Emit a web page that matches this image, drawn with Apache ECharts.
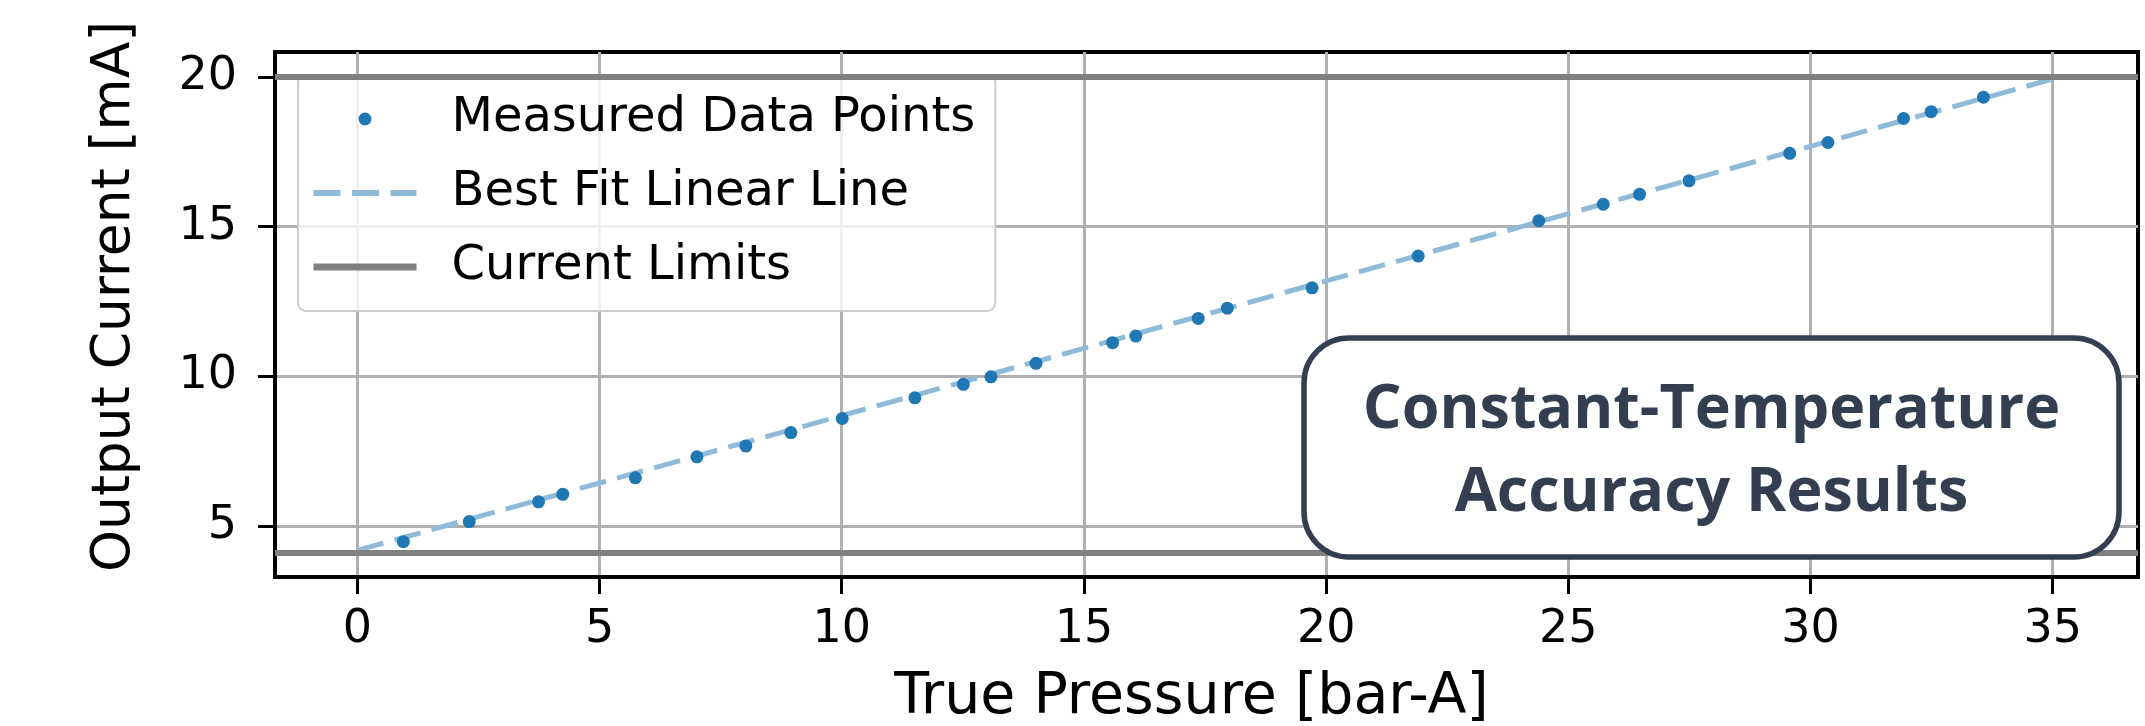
<!DOCTYPE html>
<html>
<head>
<meta charset="utf-8">
<title>Constant-Temperature Accuracy Results</title>
<script src="https://cdn.jsdelivr.net/npm/echarts@6/dist/echarts.min.js"></script>
<style>
  html, body { margin: 0; padding: 0; background: #ffffff; }
  #chart { width: 2145px; height: 726px; }
</style>
</head>
<body>
<div id="chart"></div>
<script>
// Pressure sweep: true pressure [bar-A] vs. transmitter output current [mA]
const pressure = [0.95, 2.31, 3.74, 4.24, 5.74, 7.01, 8.02, 8.95, 10.01, 11.51, 12.51, 13.08,
                  14.01, 15.59, 16.07, 17.36, 17.96, 19.71, 21.90, 24.39, 25.72, 26.47, 27.49,
                  29.57, 30.36, 31.92, 32.49, 33.57];
const current  = [4.49, 5.16, 5.82, 6.07, 6.62, 7.32, 7.68, 8.13, 8.60, 9.29, 9.74, 9.99,
                  10.44, 11.13, 11.35, 11.94, 12.28, 12.96, 14.02, 15.20, 15.75, 16.08, 16.53,
                  17.45, 17.81, 18.61, 18.84, 19.32];

// Best fit linear line (end points)
const fitPressure = [0, 35];
const fitCurrent  = [4.2, 19.93];

// 4-20 mA output limits
const currentLimits = [4.13, 20];

// Axis ticks and ranges
const xTicks = [0, 5, 10, 15, 20, 25, 30, 35];
const yTicks = [5, 10, 15, 20];
const xRange = [-1.7, 36.76];
const yRange = [3.31, 20.83];

const seriesNames = ['Measured Data Points', 'Best Fit Linear Line', 'Current Limits'];
const boxLines = ['Constant-Temperature', 'Accuracy Results'];

const BLUE = '#1f77b4';
const FIT_BLUE = '#8fbbd9';
const LIMIT_GRAY = '#808080';
const GRID_GRAY = '#b0b0b0';
const SLATE = '#333f50';
const FONT = 'DejaVu Sans';

const chart = echarts.init(document.getElementById('chart'), null, { renderer: 'canvas' });

const measured = pressure.map((p, i) => [p, current[i]]);
const fitLine = fitPressure.map((p, i) => [p, fitCurrent[i]]);

const option = {
  backgroundColor: '#ffffff',
  animation: false,
  grid: {
    left: 275, right: 7, top: 52, bottom: 149,
    show: true,
    borderColor: '#000000',
    borderWidth: 4,
    backgroundColor: '#ffffff',
    outerBoundsMode: 'none'
  },
  xAxis: {
    type: 'value',
    min: xRange[0], max: xRange[1],
    name: 'True Pressure [bar-A]',
    nameLocation: 'middle',
    nameGap: 93,
    nameTextStyle: { fontFamily: FONT, fontSize: 57, color: '#000000', padding: [0, 30, 0, 0] },
    axisLine: { show: true, onZero: false, lineStyle: { color: '#000000', width: 4 } },
    axisTick: { show: true, customValues: xTicks, length: 17, lineStyle: { color: '#000000', width: 3 } },
    axisLabel: { customValues: xTicks, margin: 30, fontFamily: FONT, fontSize: 46, color: '#000000' },
    splitLine: { show: true, lineStyle: { color: GRID_GRAY, width: 3 } }
  },
  yAxis: {
    type: 'value',
    min: yRange[0], max: yRange[1],
    name: 'Output Current [mA]',
    nameLocation: 'middle',
    nameGap: 133,
    nameTextStyle: { fontFamily: FONT, fontSize: 53.5, color: '#000000', padding: [0, 0, 0, 36] },
    axisLine: { show: true, onZero: false, lineStyle: { color: '#000000', width: 4 } },
    axisTick: { show: true, customValues: yTicks, length: 17, lineStyle: { color: '#000000', width: 3 } },
    axisLabel: { customValues: yTicks, margin: 38, fontFamily: FONT, fontSize: 46, color: '#000000' },
    splitLine: { show: true, lineStyle: { color: GRID_GRAY, width: 3 } }
  },
  legend: {
    orient: 'vertical',
    left: 298, top: 75,
    padding: [19, 20, 19, 12],
    itemWidth: 103,
    itemHeight: 13,
    itemGap: 24,
    backgroundColor: 'rgba(255,255,255,0.8)',
    borderColor: '#cccccc',
    borderWidth: 2,
    borderRadius: 8,
    textStyle: { fontFamily: FONT, fontSize: 48, color: '#000000', lineHeight: 50, padding: [0, 0, 0, 30] },
    data: [
      { name: seriesNames[0], icon: 'circle', itemStyle: { opacity: 1 } },
      { name: seriesNames[1], lineStyle: { width: 6 }, itemStyle: { opacity: 0 } },
      { name: seriesNames[2], lineStyle: { width: 7 }, itemStyle: { opacity: 0 } }
    ]
  },
  series: [
    {
      name: seriesNames[2],
      type: 'line',
      data: [],
      symbol: 'none',
      z: 3,
      lineStyle: { color: LIMIT_GRAY, width: 6 },
      itemStyle: { color: LIMIT_GRAY },
      markLine: {
        silent: true,
        symbol: ['none', 'none'],
        label: { show: false },
        lineStyle: { color: LIMIT_GRAY, width: 6, type: 'solid' },
        data: currentLimits.map(v => ({ yAxis: v }))
      }
    },
    {
      name: seriesNames[1],
      type: 'line',
      data: fitLine,
      symbol: 'none',
      z: 4,
      lineStyle: { color: FIT_BLUE, width: 5, type: [27, 11.5] },
      itemStyle: { color: FIT_BLUE }
    },
    {
      name: seriesNames[0],
      type: 'scatter',
      data: measured,
      symbol: 'circle',
      symbolSize: 13,
      z: 5,
      itemStyle: { color: BLUE, opacity: 1 }
    }
  ],
  graphic: [
    {
      type: 'rect',
      z: 100,
      shape: { x: 1304, y: 338, width: 815, height: 219, r: 45 },
      style: { fill: '#ffffff', stroke: SLATE, lineWidth: 5.5 }
    },
    {
      type: 'text',
      z: 101,
      x: 1711.5, y: 452,
      style: {
        text: boxLines.join('\n'),
        align: 'center',
        verticalAlign: 'middle',
        fontFamily: 'Open Sans',
        fontWeight: 'bold',
        fontSize: 61,
        lineHeight: 83,
        fill: SLATE
      }
    }
  ]
};

chart.setOption(option);
</script>
</body>
</html>
